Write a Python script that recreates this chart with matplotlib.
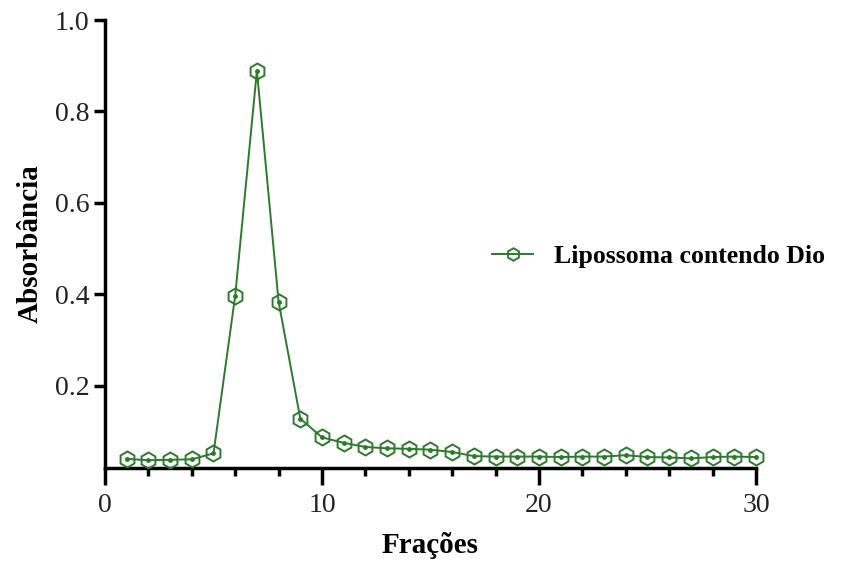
import matplotlib
matplotlib.use("Agg")
import matplotlib.pyplot as plt
from matplotlib.ticker import MultipleLocator
from matplotlib.lines import Line2D

fractions = list(range(1, 31))
absorbance = [0.040, 0.037, 0.038, 0.039, 0.052, 0.397, 0.889, 0.384, 0.128, 0.087,
              0.075, 0.066, 0.063, 0.062, 0.060, 0.055, 0.046, 0.045, 0.045, 0.045,
              0.044, 0.045, 0.045, 0.048, 0.044, 0.043, 0.041, 0.044, 0.045, 0.044]
series_label = "Lipossoma contendo Dio"
x_label = "Frações"
y_label = "Absorbância"
yticks = [0.2, 0.4, 0.6, 0.8, 1.0]
xticks = [0, 10, 20, 30]

plt.rcParams['font.family'] = ['Liberation Serif', 'DejaVu Serif']
green = '#2c7a2c'

fig = plt.figure(figsize=(8.59, 5.63), dpi=100)
ax = fig.add_axes([105/859, 1-468/563, (756-105)/859, (468-20)/563])

ax.plot(fractions, absorbance, color=green, lw=1.4, marker='h', ms=11.5,
        mfc='none', mec=green, mew=1.4, clip_on=False, zorder=3)
ax.plot(fractions, absorbance, ls='none', marker='o', ms=2.5, color=green,
        clip_on=False, zorder=4)

ax.set_xlim(0, 30)
ax.set_ylim(0.02, 1.0)
ax.set_xticks(xticks)
ax.xaxis.set_minor_locator(MultipleLocator(2))
ax.set_yticks(yticks)
ax.set_yticklabels([f"{v:.1f}" for v in yticks])

for s in ['top', 'right']:
    ax.spines[s].set_visible(False)
for s in ['left', 'bottom']:
    ax.spines[s].set_linewidth(2.5)
    ax.spines[s].set_color('black')

ax.tick_params(axis='both', which='major', width=2.5, length=8, labelsize=20,
               colors='black', labelcolor='#222222', pad=3)
ax.tick_params(axis='x', which='major', length=12, pad=6)
ax.tick_params(axis='x', which='minor', width=2.5, length=6)

ax.set_xlabel(x_label, fontsize=21, fontweight='bold', labelpad=10)
ax.set_ylabel(y_label, fontsize=21, fontweight='bold', labelpad=8)

handle = Line2D([0], [0], color=green, lw=1.4, marker='h', ms=9, mfc='none',
                mec=green, mew=1.4)
leg = fig.legend([handle], [series_label], loc='center left',
                 bbox_to_anchor=(469/859, 1-256/563), frameon=False,
                 prop={'family': 'Liberation Serif', 'weight': 'bold', 'size': 18.5},
                 handlelength=1.6, handletextpad=0.8)

fig.savefig('out.png', dpi=100)
